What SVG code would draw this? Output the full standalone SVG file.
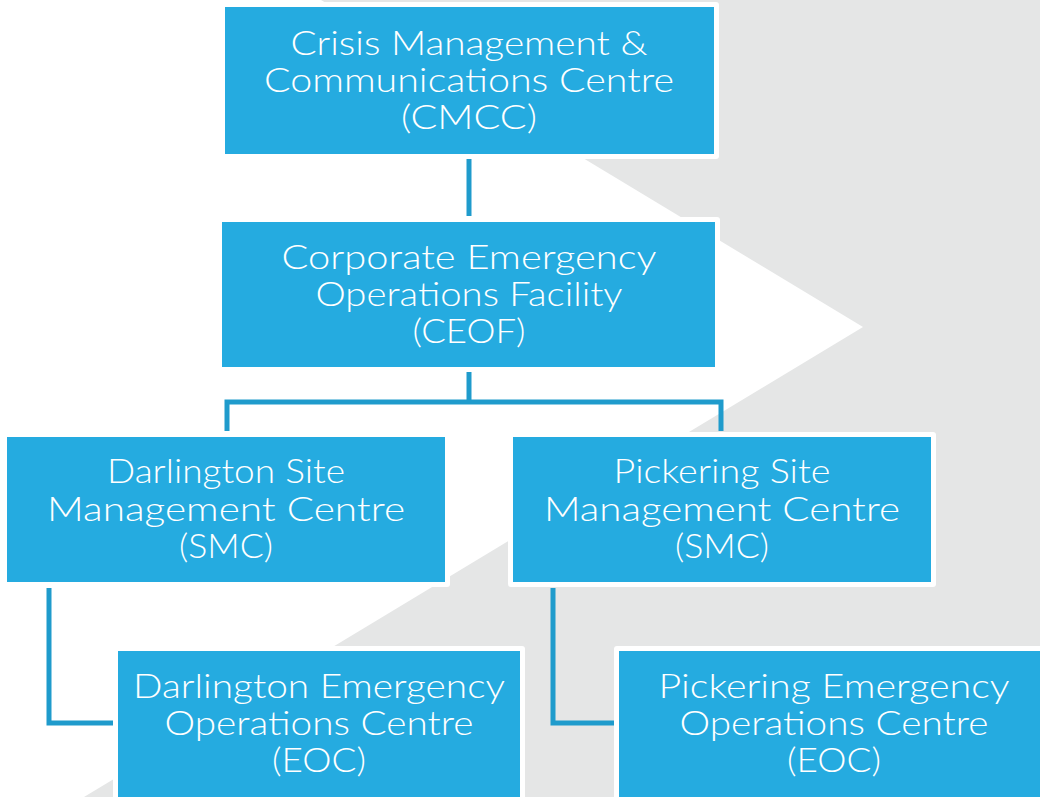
<svg xmlns="http://www.w3.org/2000/svg" width="1040" height="797" viewBox="0 0 1040 797">
<style>
.frame{fill:#ffffff}
.box{fill:#25abe0}
.lbl{font-family:"Lato","Liberation Sans",sans-serif;font-weight:300;font-size:33px;fill:#ffffff;text-anchor:middle}
.conn{fill:none;stroke:#1f9bcc;stroke-width:5;stroke-linejoin:miter;stroke-linecap:butt}
</style>
<rect x="0" y="0" width="1040" height="797" fill="#e5e6e6"/>
<polygon points="0,0 321,0 863,327 84,797 0,797" fill="#ffffff"/>
<g id="connectors">
<path class="conn" d="M469 158 V216"/>
<path class="conn" d="M469 372 V402"/>
<path class="conn" d="M227 431 V402 H721 V431"/>
<path class="conn" d="M49 588 V723 H113"/>
<path class="conn" d="M553 588 V723 H614"/>
</g>
<g id="cmcc">
<rect class="frame" x="220" y="2" width="499" height="157" rx="3"/>
<rect class="box" x="225" y="7" width="489" height="147"/>
<text class="lbl" x="469" y="55" textLength="357" lengthAdjust="spacingAndGlyphs">Crisis Management &amp;</text>
<text class="lbl" x="469" y="92" textLength="410" lengthAdjust="spacingAndGlyphs">Communications Centre</text>
<text class="lbl" x="469" y="129" textLength="136" lengthAdjust="spacingAndGlyphs">(CMCC)</text>
</g>
<g id="ceof">
<rect class="frame" x="217" y="217" width="503" height="155" rx="3"/>
<rect class="box" x="222" y="222" width="493" height="145"/>
<text class="lbl" x="469" y="269" textLength="375" lengthAdjust="spacingAndGlyphs">Corporate Emergency</text>
<text class="lbl" x="469" y="306" textLength="307" lengthAdjust="spacingAndGlyphs">Operations Facility</text>
<text class="lbl" x="469" y="343" textLength="113" lengthAdjust="spacingAndGlyphs">(CEOF)</text>
</g>
<g id="darlington-smc">
<rect class="frame" x="2" y="432" width="448" height="155" rx="3"/>
<rect class="box" x="7" y="437" width="438" height="145"/>
<text class="lbl" x="226" y="483" textLength="238" lengthAdjust="spacingAndGlyphs">Darlington Site</text>
<text class="lbl" x="226" y="521" textLength="358" lengthAdjust="spacingAndGlyphs">Management Centre</text>
<text class="lbl" x="226" y="558" textLength="94" lengthAdjust="spacingAndGlyphs">(SMC)</text>
</g>
<g id="pickering-smc">
<rect class="frame" x="508" y="432" width="428" height="155" rx="3"/>
<rect class="box" x="513" y="437" width="418" height="145"/>
<text class="lbl" x="722" y="483" textLength="217" lengthAdjust="spacingAndGlyphs">Pickering Site</text>
<text class="lbl" x="722" y="521" textLength="356" lengthAdjust="spacingAndGlyphs">Management Centre</text>
<text class="lbl" x="722" y="558" textLength="94" lengthAdjust="spacingAndGlyphs">(SMC)</text>
</g>
<g id="darlington-eoc">
<rect class="frame" x="113" y="646" width="412" height="170" rx="3"/>
<rect class="box" x="118" y="651" width="402" height="160"/>
<text class="lbl" x="319" y="698" textLength="372" lengthAdjust="spacingAndGlyphs">Darlington Emergency</text>
<text class="lbl" x="319" y="735" textLength="309" lengthAdjust="spacingAndGlyphs">Operations Centre</text>
<text class="lbl" x="319" y="772" textLength="94" lengthAdjust="spacingAndGlyphs">(EOC)</text>
</g>
<g id="pickering-eoc">
<rect class="frame" x="614" y="646" width="440" height="170" rx="3"/>
<rect class="box" x="619" y="651" width="430" height="160"/>
<text class="lbl" x="834" y="698" textLength="351" lengthAdjust="spacingAndGlyphs">Pickering Emergency</text>
<text class="lbl" x="834" y="735" textLength="309" lengthAdjust="spacingAndGlyphs">Operations Centre</text>
<text class="lbl" x="834" y="772" textLength="94" lengthAdjust="spacingAndGlyphs">(EOC)</text>
</g>
</svg>
